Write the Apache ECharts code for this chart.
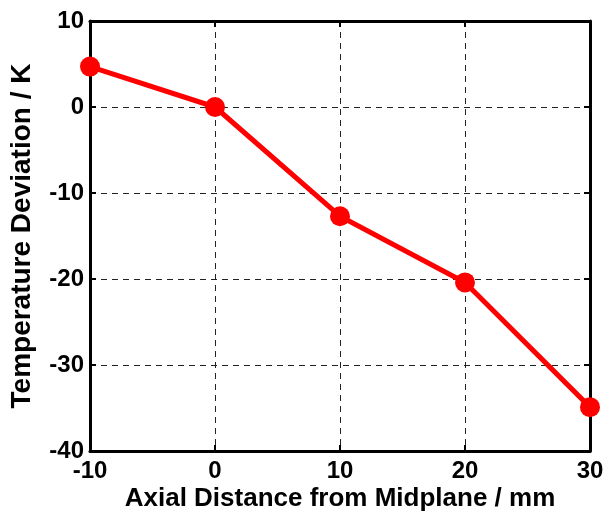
<!DOCTYPE html>
<html>
<head>
<meta charset="utf-8">
<script src="https://cdn.jsdelivr.net/npm/echarts@6/dist/echarts.min.js"></script>
<style>
  html, body { margin: 0; padding: 0; background: #fff; }
  #chart { width: 605px; height: 515px; }
</style>
</head>
<body>
<div id="chart"></div>
<script>
// Axial position (mm) and measured temperature deviation (K)
const distances = [-10, 0, 10, 20, 30];
const deviations = [4.7, 0.0, -12.7, -20.4, -34.9];
const xTicks = [-10, 0, 10, 20, 30];
const yTicks = [-40, -30, -20, -10, 0, 10];

const FONT = '"Liberation Sans", Arial, sans-serif';
const chart = echarts.init(document.getElementById('chart'));

const points = distances.map((d, i) => [d, deviations[i]]);

const gridLine = { show: true, lineStyle: { color: '#222', type: [6, 5], width: 1 } };
const frameLine = { show: true, onZero: false, lineStyle: { color: '#000', width: 3 } };
const innerTick = { show: true, inside: true, length: 6, lineStyle: { color: '#000', width: 2 } };
const tickFont = { fontFamily: FONT, fontWeight: 'bold', fontSize: 24, color: '#000' };

chart.setOption({
  animation: false,
  backgroundColor: '#fff',
  grid: { left: 90, right: 15, top: 21, bottom: 64, containLabel: false, outerBoundsMode: 'none' },
  xAxis: [
    {
      type: 'value', min: xTicks[0], max: xTicks[xTicks.length - 1], interval: 10,
      name: 'Axial Distance from Midplane / mm', nameLocation: 'middle', nameGap: 35,
      nameMoveOverlap: false,
      nameTextStyle: { fontFamily: FONT, fontWeight: 'bold', fontSize: 26, color: '#000' },
      axisLine: frameLine, axisTick: innerTick, splitLine: gridLine,
      axisLabel: Object.assign({ margin: 8 }, tickFont)
    },
    {
      type: 'value', position: 'top', min: xTicks[0], max: xTicks[xTicks.length - 1], interval: 10,
      axisLine: frameLine, axisTick: innerTick, splitLine: { show: false }, axisLabel: { show: false }
    }
  ],
  yAxis: [
    {
      type: 'value', min: yTicks[0], max: yTicks[yTicks.length - 1], interval: 10,
      name: 'Temperature Deviation / K', nameLocation: 'middle', nameGap: 54,
      nameMoveOverlap: false,
      nameTextStyle: { fontFamily: FONT, fontWeight: 'bold', fontSize: 28, color: '#000' },
      axisLine: frameLine, axisTick: innerTick, splitLine: gridLine,
      axisLabel: Object.assign({ margin: 6 }, tickFont)
    },
    {
      type: 'value', position: 'right', min: yTicks[0], max: yTicks[yTicks.length - 1], interval: 10,
      axisLine: frameLine, axisTick: innerTick, splitLine: { show: false }, axisLabel: { show: false }
    }
  ],
  series: [
    {
      type: 'line',
      data: points,
      symbol: 'circle',
      symbolSize: 20,
      lineStyle: { color: '#ff0000', width: 5 },
      itemStyle: { color: '#ff0000' },
      clip: false
    }
  ]
});
</script>
</body>
</html>
